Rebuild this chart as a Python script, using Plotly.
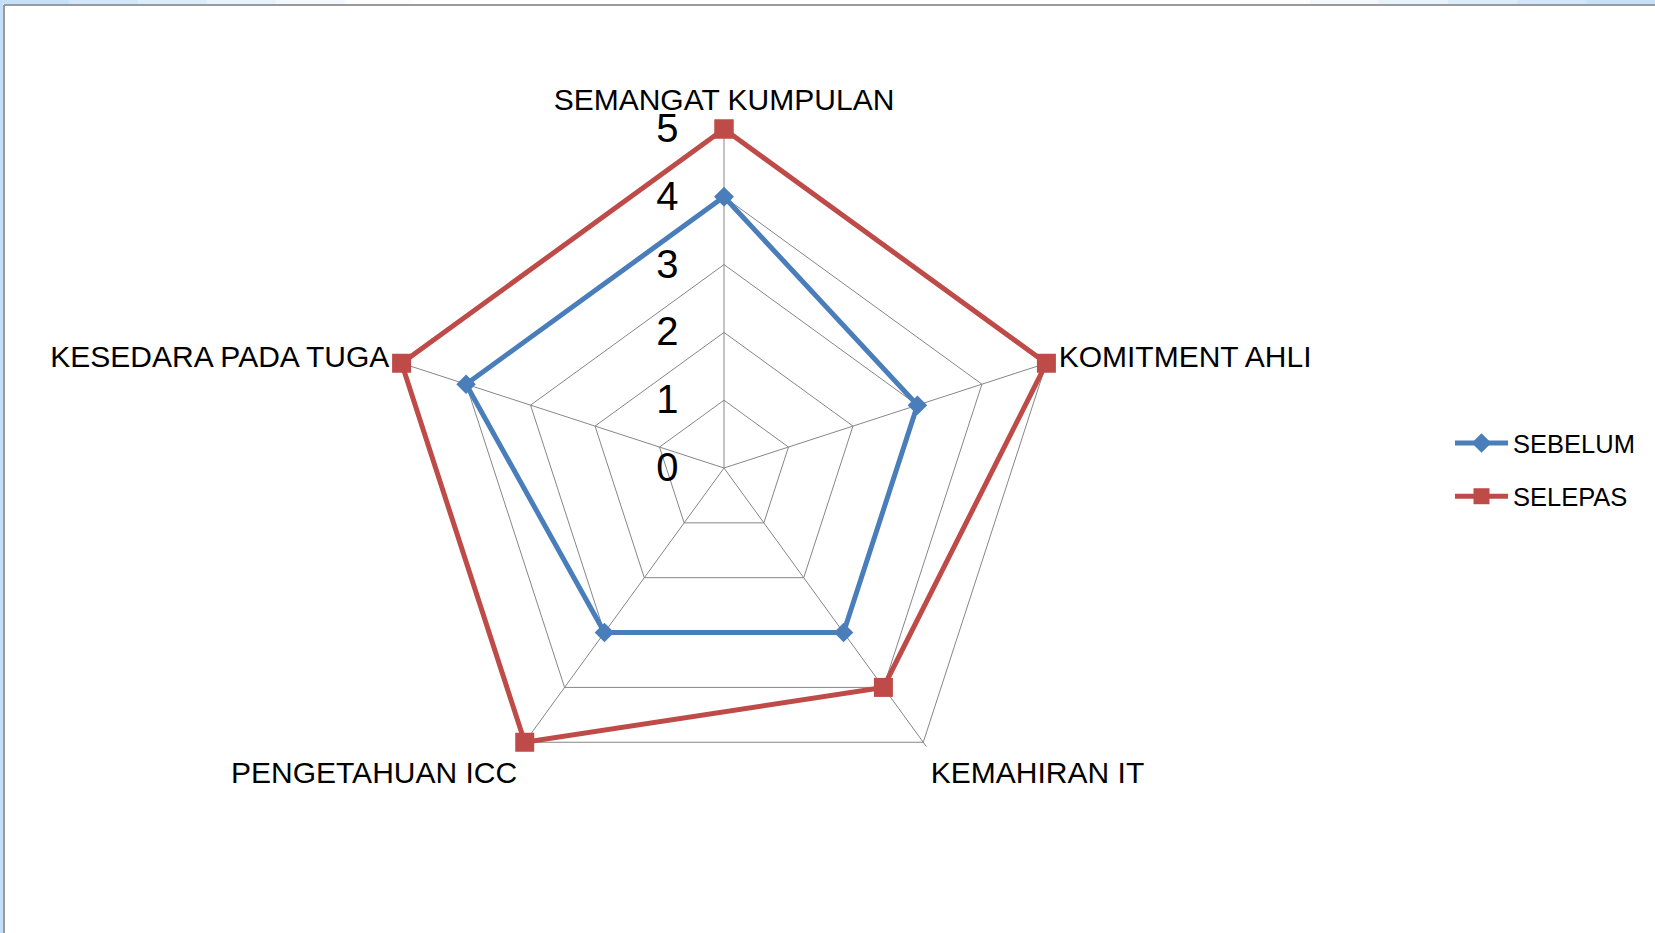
import plotly.graph_objects as go

categories = ["SEMANGAT KUMPULAN", "KOMITMENT AHLI", "KEMAHIRAN IT",
              "PENGETAHUAN ICC", "KESEDARA PADA TUGA"]
sebelum = [4, 3, 3, 3, 4]
selepas = [5, 5, 4, 5, 5]
radial_ticks = [0, 1, 2, 3, 4, 5]

W, H = 1655, 933
rmax = 5.08                      # a little headroom so the outer line is not clipped
cx, cy, r = 724, 468, 339 * rmax / 5

fig = go.Figure()
fig.add_trace(go.Scatterpolar(
    r=sebelum + sebelum[:1], theta=categories + categories[:1], name="SEBELUM",
    legendgroup="a", mode="lines+markers", line=dict(color="#4A7EBB", width=5),
    marker=dict(symbol="diamond", size=15, color="#4A7EBB"), cliponaxis=False))
fig.add_trace(go.Scatterpolar(
    r=selepas + selepas[:1], theta=categories + categories[:1], name="SELEPAS",
    legendgroup="b", mode="lines+markers", line=dict(color="#BE4B48", width=5),
    marker=dict(symbol="square", size=19, color="#BE4B48"), cliponaxis=False))

# window frame: light blue strips with grey edge (top and left)
shapes = []
n = 24
for i in range(n):
    t = i / (n - 1)
    d = abs(t - 0.5) * 2
    k = max(0, (d - 0.55) / 0.45)
    col = "rgb(%d,%d,%d)" % (255 - 58 * k, 255 - 30 * k, 255 - 5 * k)
    shapes.append(dict(type="rect", xref="paper", yref="paper", x0=i / n, x1=(i + 1) / n,
                       y0=1 - 4 / H, y1=1, fillcolor=col, line_width=0, layer="below"))
shapes.append(dict(type="rect", xref="paper", yref="paper", x0=0, x1=3 / W, y0=0, y1=1,
                   fillcolor="#C2DEF8", line_width=0))
shapes.append(dict(type="line", xref="paper", yref="paper", x0=4 / W, x1=1,
                   y0=1 - 5 / H, y1=1 - 5 / H, line=dict(color="#9A9A9A", width=2)))
shapes.append(dict(type="line", xref="paper", yref="paper", x0=4 / W, x1=4 / W,
                   y0=0, y1=1 - 5 / H, line=dict(color="#9A9A9A", width=2)))

fig.update_layout(
    width=W, height=H, autosize=False,
    margin=dict(l=0, r=0, t=0, b=0),
    paper_bgcolor="white",
    font=dict(family="Liberation Sans, Arial, sans-serif", color="black"),
    shapes=shapes,
    polar=dict(
        domain=dict(x=[(cx - r) / W, (cx + r) / W],
                    y=[(H - cy - r) / H, (H - cy + r) / H]),
        bgcolor="white",
        gridshape="linear",
        angularaxis=dict(rotation=90, direction="clockwise",
                         tickfont=dict(size=30), showline=False,
                         gridcolor="#868686", gridwidth=1.3,
                         ticks="outside", ticklen=1, tickcolor="rgba(0,0,0,0)",
                         layer="below traces"),
        radialaxis=dict(range=[0, rmax], tickvals=radial_ticks, angle=90,
                        side="counterclockwise", tickangle=90,
                        tickfont=dict(size=40), showline=False,
                        ticks="outside", ticklen=31, tickcolor="rgba(0,0,0,0)",
                        gridcolor="#868686", gridwidth=1.3, layer="below traces"),
    ),
    legend=dict(x=1450 / W, y=1 - 420 / H, xanchor="left", yanchor="top",
                font=dict(size=25.5), itemwidth=53, tracegroupgap=17),
)

fig.write_html("out.html", config={"displayModeBar": False},
               post_script="document.body.style.margin='0px';")
